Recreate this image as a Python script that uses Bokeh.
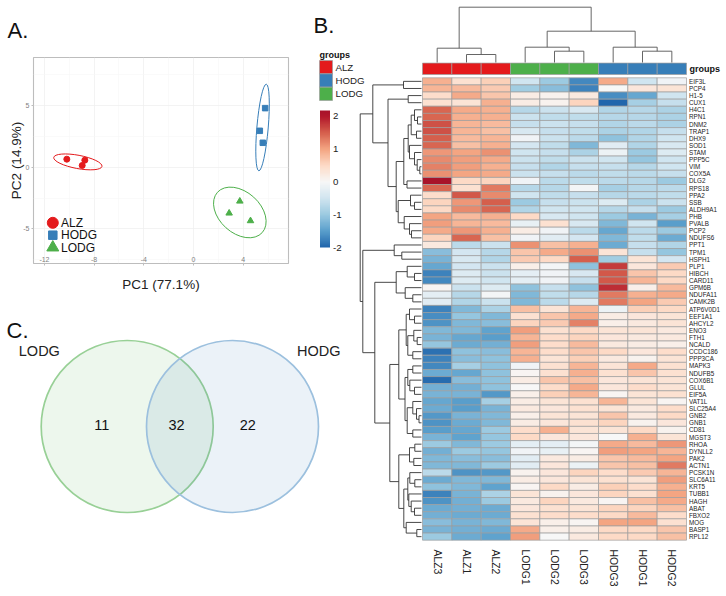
import numpy as np
from bokeh.core.properties import value
from bokeh.embed import file_html
from bokeh.layouts import column, row
from bokeh.models import ColorBar, FixedTicker, LinearColorMapper, Range1d, ColumnDataSource
from bokeh.plotting import figure
from bokeh.resources import INLINE

FONT = "Liberation Sans"
RED, BLUE, GREEN = "#E41A1C", "#377EB8", "#4DAF4A"

# ---------- PCA data ----------
alz_pc1 = [-10.2, -8.75, -8.96]
alz_pc2 = [0.65, 0.57, 0.14]
hodg_pc1 = [5.77, 5.34, 5.58]
hodg_pc2 = [4.79, 2.95, 1.98]
lodg_pc1 = [3.73, 2.87, 4.59]
lodg_pc2 = [-2.76, -3.73, -4.35]
# centre x, centre y, major, minor, angle (deg)
alz_ellipse = (-9.31, 0.43, 3.95, 1.08, -10.6)
hodg_ellipse = (5.56, 3.22, 7.0, 0.92, 85.1)
lodg_ellipse = (3.73, -3.67, 4.85, 3.35, -42)
pc1_ticks = [-12, -8, -4, 0, 4]
pc2_ticks = [-5, 0, 5]

# ---------- Venn data ----------
venn_only_lodg, venn_both, venn_only_hodg = 11, 32, 22

# ---------- Heat map data ----------
samples = ["ALZ3", "ALZ1", "ALZ2", "LODG1", "LODG2", "LODG3", "HODG3", "HODG1", "HODG2"]
sample_groups = ["ALZ", "ALZ", "ALZ", "LODG", "LODG", "LODG", "HODG", "HODG", "HODG"]
genes = ["EIF3L", "PCP4", "H1-5", "CUX1", "H4C1", "RPN1", "DNM2", "TRAP1", "DHX9", "SOD1", "STAM", "PPP5C", "VIM",
         "COX5A", "DLG2", "RPS18", "PPA2", "SSB", "ALDH9A1", "PHB", "PVALB", "PCP2", "NDUFS6", "PPT1", "TPM1", "HSPH1",
         "PLP1", "HIBCH", "CARD11", "GPM6B", "NDUFA11", "CAMK2B", "ATP6V0D1", "EEF1A1", "AHCYL2", "ENO3", "FTH1",
         "NCALD", "CCDC186", "PPP3CA", "MAPK3", "NDUFB5", "COX6B1", "GLUL", "EIF5A", "VAT1L", "SLC25A4", "GNB2", "GNB1",
         "CD81", "MGST3", "RHOA", "DYNLL2", "PAK2", "ACTN1", "PCSK1N", "SLC6A11", "KRT5", "TUBB1", "HAGH", "ABAT",
         "FBXO2", "MOG", "BASP1", "RPL12"]
z_scores = [
    [0.9, 0.4, 0.6, -0.5, -1.0, -1.7, 0.95, -0.5, -0.1],
    [0.85, 0.8, 0.65, -0.95, -1.15, -1.75, 0.0, 0.3, 0.35],
    [0.45, 0.95, 0.7, 0.2, 0.1, 0.25, -1.65, -1.4, -0.5],
    [0.4, 0.35, 0.9, 0.2, 0.1, 0.55, -2.1, -0.9, -0.6],
    [1.45, 0.95, 0.9, -0.75, -0.55, -0.4, -0.8, -0.75, -0.85],
    [1.45, 0.9, 0.9, -0.55, -0.65, -0.65, -0.75, -0.75, -0.85],
    [1.6, 0.85, 0.8, -0.6, -0.55, -0.6, -0.8, -0.7, -0.85],
    [1.6, 0.85, 0.75, -0.4, -0.6, -0.65, -0.85, -0.8, -0.6],
    [1.5, 0.8, 0.85, -0.1, -0.55, -0.7, -1.1, -0.8, -0.5],
    [1.45, 0.75, 0.9, -0.45, -0.65, -1.2, -0.3, -0.8, -0.4],
    [1.1, 1.0, 1.15, -0.5, -0.6, -0.85, -0.15, -1.0, -0.35],
    [1.2, 1.05, 0.95, -0.55, -0.65, -0.55, -0.5, -1.05, -0.5],
    [1.25, 1.05, 0.9, -0.6, -0.8, -0.6, -0.6, -0.75, -0.5],
    [1.15, 1.0, 0.95, -0.55, -0.6, -0.7, -0.65, -0.7, -0.6],
    [2.2, 0.5, 0.55, -0.1, -0.7, -0.65, -0.7, -0.75, -1.0],
    [1.45, 0.4, 1.3, -0.75, -0.75, -0.05, -0.9, -0.75, -0.7],
    [0.45, 1.55, 1.2, -0.5, -0.65, -0.6, -0.75, -0.7, -0.65],
    [0.55, 1.1, 1.5, -1.0, -0.6, -0.55, -0.35, -0.85, -0.55],
    [0.5, 1.2, 1.45, -0.8, -0.5, -0.5, -0.75, -0.6, -1.0],
    [1.0, 0.8, 0.9, 0.5, -0.4, -0.5, -1.0, -1.25, -0.9],
    [1.05, 0.85, 0.8, -0.2, 0.4, -0.4, -1.2, -0.5, -1.5],
    [0.95, 1.1, 0.9, 0.2, -0.1, -0.7, -1.4, -0.7, -1.0],
    [0.55, 1.45, 0.75, -0.1, -0.3, -0.45, -1.2, -0.65, -1.35],
    [0.25, -0.7, -0.55, 1.15, 0.75, 0.9, -1.35, -0.6, -0.8],
    [-1.15, -0.45, -0.75, 0.7, 0.95, 1.15, 0.35, -0.6, -1.05],
    [-1.25, -0.4, -0.8, 0.65, 0.5, 1.5, -0.95, 0.35, -0.45],
    [-1.4, -0.45, -0.55, 0.15, -0.05, -1.1, 1.75, 0.3, 0.65],
    [-1.75, -0.35, -0.55, -0.25, -0.1, -0.4, 1.55, 0.7, 0.5],
    [-1.7, -0.35, -0.5, -0.25, -0.1, -0.6, 1.55, 0.85, 0.5],
    [0.05, -0.55, -0.35, -1.1, -0.6, -1.1, 1.85, 0.15, 0.8],
    [-0.25, -0.75, -0.05, -1.2, -0.65, -0.75, 1.3, 0.9, 0.95],
    [-0.3, -0.8, -0.55, -1.2, -0.7, -0.35, 1.3, 1.0, 0.65],
    [-1.75, -1.2, -0.85, 0.75, 0.35, 0.85, -0.15, 0.6, 0.5],
    [-1.65, -1.05, -1.2, 0.4, 0.7, 0.95, 0.2, 0.3, 0.35],
    [-1.6, -1.2, -1.15, 0.55, 0.65, 1.25, 0.15, 0.25, 0.35],
    [-1.2, -1.2, -1.45, 1.05, 0.4, 0.5, 0.35, 0.35, 0.25],
    [-1.25, -1.4, -1.5, 0.85, 0.45, 0.55, 0.3, 0.25, 0.25],
    [-1.05, -1.35, -1.3, 1.05, 0.45, 0.8, 0.25, 0.2, 0.15],
    [-1.9, -1.1, -1.15, 0.85, 0.45, 0.7, 0.5, 0.3, 0.45],
    [-1.75, -1.15, -1.1, 0.9, 0.35, 0.6, 0.25, 0.1, 0.35],
    [-1.7, -0.9, -1.1, -0.1, 0.4, 0.85, 0.35, 0.95, 0.4],
    [-1.35, -1.4, -1.1, 0.05, 0.4, 0.9, 0.4, 0.7, 0.4],
    [-1.95, -1.15, -1.1, 0.2, 0.7, 0.75, 0.3, 0.35, 0.35],
    [-1.3, -1.3, -1.1, 0.0, 0.45, 0.95, 0.3, 0.45, 0.35],
    [-1.25, -1.25, -1.55, 0.15, 0.6, 0.85, 0.05, 0.35, 0.4],
    [-1.4, -1.5, -0.9, 0.2, 0.35, 0.4, 0.85, 0.35, 0.05],
    [-1.35, -1.5, -1.25, 0.25, 0.3, 0.4, 0.35, 0.25, 0.45],
    [-1.55, -1.25, -1.2, 0.15, 0.35, 0.35, 0.7, 0.25, 0.5],
    [-1.6, -1.35, -1.2, 0.2, 0.3, 0.4, 0.55, 0.1, 0.3],
    [-1.5, -1.4, -1.0, 0.45, 0.9, 0.35, 0.35, 0.5, 0.1],
    [-1.25, -1.45, -1.05, 0.5, 0.3, 0.3, 0.0, 0.9, 0.35],
    [-1.0, -1.2, -1.0, -0.25, -0.25, -0.05, 0.95, 0.8, 1.1],
    [-1.3, -1.0, -1.05, -0.1, -0.2, 0.05, 1.05, 1.0, 0.85],
    [-1.2, -1.15, -1.15, -0.3, 0.25, 0.2, 0.7, 0.8, 1.0],
    [-1.2, -1.2, -1.0, -0.3, 0.3, -0.15, 0.7, 0.75, 1.3],
    [-0.7, -1.6, -1.55, 0.1, 0.3, 0.55, 0.45, 0.65, 0.85],
    [-1.35, -1.2, -1.2, 0.2, 0.3, 0.35, 0.4, 0.35, 1.05],
    [-1.1, -1.2, -1.45, 0.05, 0.5, 0.2, 0.6, 0.45, 0.9],
    [-1.75, -1.25, -0.85, 0.35, 0.1, 0.3, 0.55, 0.4, 1.0],
    [-1.6, -1.3, -1.0, 0.25, 0.55, 0.25, 0.05, 0.75, 0.95],
    [-1.35, -1.3, -1.35, 0.3, 0.4, 0.35, 0.55, 0.55, 0.75],
    [-1.3, -1.35, -1.35, 0.4, 0.45, 0.45, 0.5, 0.8, 0.45],
    [-1.15, -1.25, -1.2, 0.35, 0.15, 0.05, 1.0, 1.0, 0.4],
    [-1.25, -1.3, -1.35, 0.95, 0.15, 0.2, 0.5, 0.5, 0.7],
    [-1.0, -1.35, -1.45, 1.05, 0.0, 0.25, 0.5, 0.5, 0.75],
]
colorbar_ticks = [-2, -1, 0, 1, 2]

# Dendrograms: (merge position, child, child)
sample_tree = (6.7,
               (47.7, "ALZ3", (54, "ALZ1", "ALZ2")),
               (30.7,
                (46.7, "LODG1", (50.7, "LODG2", "LODG3")),
                (46.7, "HODG3", (50.7, "HODG1", "HODG2"))))
gene_tree = (359.7,
    (372.3,
     (403, "EIF3L", "PCP4"),
     (387.5,
      (407.7, "H1-5", "CUX1"),
      (395.7,
       (403.3,
        (407.7,
         (410.7,
          (414, "H4C1", (417, "RPN1", "DNM2")),
          (416, "TRAP1", "DHX9")),
         (409, "SOD1", (414, "STAM", (416.7, "PPP5C", (419.3, "VIM", "COX5A"))))),
        (406.5, "DLG2", "RPS18")),
       (397.7,
        (410, "PPA2", (414, "SSB", "ALDH9A1")),
        (403.7, "PHB", (409, "PVALB", (411, "PCP2", "NDUFS6"))))))),
    (362.3,
     (393.7, "PPT1", (401.3, "TPM1", "HSPH1")),
     (374.3,
      (395.7,
       (406.7, "PLP1", (414, "HIBCH", "CARD11")),
       (404.7, "GPM6B", (412.3, "NDUFA11", "CAMK2B"))),
      (389.3,
       (398.3,
        (405.7,
         (409, "ATP6V0D1", (414, "EEF1A1", "AHCYL2")),
         (407.3, (413.3, "ENO3", (416.7, "FTH1", "NCALD")), (412.3, "CCDC186", "PPP3CA"))),
        (404.5,
         (407.3,
          (412.3, "MAPK3", "NDUFB5"),
          (409.3, "COX6B1", (414, "GLUL", "EIF5A"))),
         (406.7,
          (412.3, "VAT1L", (416, "SLC25A4", (418.5, "GNB2", "GNB1"))),
          (412.3, "CD81", "MGST3")))),
       (398.3,
        (409, (414.3, "RHOA", "DYNLL2"), (413.3, "PAK2", "ACTN1")),
        (403.3,
         (407.3,
          (409.3, "PCSK1N", (414.3, "SLC6A11", "KRT5")),
          (408.3, "TUBB1", (410.7, "HAGH", (414, "ABAT", "FBXO2")))),
         (405.7, "MOG", (416.3, "BASP1", "RPL12"))))))))

GROUP_COLOR = {"ALZ": RED, "HODG": BLUE, "LODG": GREEN}


def page_figure(w, h, xr, yr):
    p = figure(width=w, height=h, x_range=xr, y_range=yr, output_backend="svg", toolbar_location=None,
               min_border=0, border_fill_color=None, background_fill_color=None, outline_line_color=None)
    p.axis.visible = False
    p.grid.visible = False
    p.frame_align = False
    return p


# ---------- A. PCA ----------
SX = 12.42
SY = 12.33
a = figure(width=308, height=300, x_range=Range1d((33 - 193) / SX, (288 - 193) / SX),
           y_range=Range1d((166.7 - 263) / SY, (166.7 - 57) / SY), output_backend="svg", toolbar_location=None,
           min_border_left=33, min_border_right=20, min_border_top=57, min_border_bottom=37,
           border_fill_color=None, background_fill_color="white", frame_align=False)
a.outline_line_color = "#BDBDBD"
a.outline_line_width = 1.1
for ax, ticks in ((a.xaxis[0], pc1_ticks), (a.yaxis[0], pc2_ticks)):
    ax.ticker = FixedTicker(ticks=ticks)
    ax.axis_line_color = None
    ax.major_tick_line_color = "#BDBDBD"
    ax.major_tick_out = 2
    ax.major_tick_in = 0
    ax.minor_tick_line_color = None
    ax.major_label_text_font = FONT
    ax.major_label_text_font_size = "7px"
    ax.major_label_text_color = "#7F7F7F"
    ax.major_label_overrides = {t: str(t) for t in ticks}
    ax.axis_label_text_font = FONT
    ax.axis_label_text_font_size = "13.5px"
    ax.axis_label_text_font_style = "normal"
    ax.axis_label_text_color = "#222222"
a.xaxis[0].major_label_standoff = -9
a.yaxis[0].major_label_standoff = 2
a.xaxis[0].axis_label = "PC1 (77.1%)"
a.yaxis[0].axis_label = "PC2 (14.9%)"
a.xaxis[0].axis_label_standoff = 12
a.yaxis[0].axis_label_standoff = -4
a.xgrid[0].ticker = FixedTicker(ticks=pc1_ticks, minor_ticks=[-10, -6, -2, 2, 6])
a.ygrid[0].ticker = FixedTicker(ticks=pc2_ticks, minor_ticks=[-7.5, -2.5, 2.5, 7.5])
for g in (a.xgrid[0], a.ygrid[0]):
    g.grid_line_color = "#EEEEEE"
    g.grid_line_width = 0.7
    g.minor_grid_line_color = "#F6F6F6"
    g.minor_grid_line_width = 0.6

# panel letter as the figure's title
a.title.text = "A."
a.title.align = "left"
a.title.offset = -26
a.title.standoff = 29
a.title.text_font = FONT
a.title.text_font_size = "22px"
a.title.text_font_style = "normal"
a.title.text_color = "#111111"

for (cx, cy, w, h, ang), col in ((alz_ellipse, RED), (hodg_ellipse, BLUE), (lodg_ellipse, GREEN)):
    a.ellipse(x=[cx], y=[cy], width=[w], height=[h], angle=[ang], angle_units="deg",
              fill_color=None, line_color=col, line_width=1.0)
a.scatter(alz_pc1, alz_pc2, marker="circle", size=6, color=RED)
a.scatter(hodg_pc1, hodg_pc2, marker="square", size=5.5, color=BLUE)
a.scatter(lodg_pc1, lodg_pc2, marker="triangle", size=6.5, color=GREEN)

# legend keys of panel A
key_x = (52.3 - 193) / SX
key_y = [(166.7 - py) / SY for py in (222.3, 234.7, 247)]
a.scatter([key_x], [key_y[0]], marker="circle", size=11, color=RED)
a.scatter([key_x], [key_y[1]], marker="square", size=8.5, color=BLUE)
a.scatter([key_x], [key_y[2]], marker="triangle", size=12, color=GREEN)
a.text(x=[(60.5 - 193) / SX] * 3, y=key_y, text=["ALZ", "HODG", "LODG"], text_baseline="middle",
       text_font=value(FONT), text_font_size="12px", text_color="#111111")

# ---------- C. Venn ----------
c = page_figure(348, 296, Range1d(0, 348), Range1d(596, 300))
c.circle(x=[126.7], y=[426], radius=86, fill_color=GREEN, fill_alpha=0.1, line_color="#98D096", line_width=1.7)
c.circle(x=[232], y=[426], radius=86, fill_color=BLUE, fill_alpha=0.1, line_color="#9CC0DE", line_width=1.7)
c.text(x=[101.3, 176, 247.3], y=[424.7] * 3,
       text=[str(venn_only_lodg), str(venn_both), str(venn_only_hodg)], text_align="center", text_baseline="middle",
       text_font=value(FONT), text_font_size="14.5px", text_color="#111111")
c.text(x=[18.3, 296.5], y=[350.5, 350.5], text=["LODG", "HODG"], text_baseline="middle",
       text_font=value(FONT), text_font_size="14.5px", text_color="#222222")
c.text(x=[6], y=[330], text=["C."], text_baseline="middle", text_font=value(FONT), text_font_size="22px",
       text_color="#111111")

# ---------- B. Heat map ----------
H_LEFT, H_RIGHT, H_TOP, H_BOTTOM = 422.0, 686.0, 77.3, 539.7
CW = (H_RIGHT - H_LEFT) / len(samples)
RH = (H_BOTTOM - H_TOP) / len(genes)
FIG_L, FIG_R, FIG_T, FIG_B = 305.0, 726.0, 0.0, 596.0
b = page_figure(421, 596, Range1d(FIG_L, FIG_R), Range1d(FIG_B, FIG_T))
b.margin = (0, 0, 0, -43)
b.extra_x_ranges["col"] = Range1d((FIG_L - H_LEFT) / CW - 0.5, (FIG_R - H_LEFT) / CW - 0.5)
b.extra_y_ranges["row"] = Range1d((FIG_B - H_TOP) / RH - 0.5, (FIG_T - H_TOP) / RH - 0.5)

anchors_v = [-2, -1.5, -1, -0.5, 0, 0.5, 1, 1.5, 2, 2.18]
anchors_c = ["#2166AC", "#5A9FCC", "#9CCAE1", "#D1E5F0", "#F7F7F7", "#FDDBC7", "#F4A582", "#D6604D", "#B2182B", "#A8132A"]
rgb = np.array([[int(h[i:i + 2], 16) for i in (1, 3, 5)] for h in anchors_c], dtype=float)
grid = np.linspace(-2, 2.18, 256)
palette = ["#%02x%02x%02x" % tuple(int(round(np.interp(v, anchors_v, rgb[:, k]))) for k in range(3)) for v in grid]
mapper = LinearColorMapper(palette=palette, low=-2, high=2.18)

hm = ColumnDataSource(dict(
    col=[j for i in range(len(genes)) for j in range(len(samples))],
    row=[i for i in range(len(genes)) for j in range(len(samples))],
    z=[v for r in z_scores for v in r],
))
b.rect(x="col", y="row", width=1, height=1, source=hm, x_range_name="col", y_range_name="row",
       fill_color={"field": "z", "transform": mapper}, line_color="#9E9E9E", line_width=0.7)

# annotation bar
b.rect(x=list(range(len(samples))), y=[68.3] * len(samples), width=1, height=11.4, x_range_name="col",
       fill_color=[GROUP_COLOR[g] for g in sample_groups], line_color="#9E9E9E", line_width=0.7)
b.text(x=[689], y=[68.5], text=["groups"], text_baseline="middle", text_font=value(FONT), text_font_style="bold",
       text_font_size="9px", text_color="#111111")

# labels
b.text(x=[688.5] * len(genes), y=list(range(len(genes))), text=genes, y_range_name="row", text_baseline="middle",
       text_font=value(FONT), text_font_size="6.3px", text_color="#222222")
b.text(x=list(range(len(samples))), y=[549] * len(samples), text=samples, x_range_name="col", angle=-np.pi / 2,
       text_align="left", text_baseline="middle", text_font=value(FONT), text_font_size="10.4px", text_color="#222222")


def tree_lines(node, leaf_pos, leaf_edge):
    """Return (position across the leaves, merge position, segments) of a nested merge tuple."""
    if isinstance(node, str):
        return leaf_pos[node], leaf_edge, []
    h, l, r = node
    lp, lh, ls = tree_lines(l, leaf_pos, leaf_edge)
    rp, rh, rs = tree_lines(r, leaf_pos, leaf_edge)
    seg = ([lp, lp, rp, rp], [lh, h, h, rh])
    return (lp + rp) / 2, h, ls + rs + [seg]


_, _, segs = tree_lines(sample_tree, {s: i for i, s in enumerate(samples)}, 62.0)
b.multi_line(xs=[s[0] for s in segs], ys=[s[1] for s in segs], x_range_name="col", line_color="#555555", line_width=0.9)
_, _, segs = tree_lines(gene_tree, {g: i for i, g in enumerate(genes)}, 421.0)
b.multi_line(xs=[s[1] for s in segs], ys=[s[0] for s in segs], y_range_name="row", line_color="#333333", line_width=0.9)

# group legend
leg_names = ["ALZ", "HODG", "LODG"]
b.text(x=[319], y=[54], text=["groups"], text_baseline="middle", text_font=value(FONT), text_font_style="bold",
       text_font_size="9px", text_color="#111111")
b.rect(x=[325.5] * 3, y=[66.7, 80, 93.3], width=13, height=13.3, fill_color=[GROUP_COLOR[n] for n in leg_names],
       line_color="#9E9E9E", line_width=0.7)
b.text(x=[335] * 3, y=[66.7, 80, 93.3], text=leg_names, text_baseline="middle", text_font=value(FONT),
       text_font_size="9.7px", text_color="#222222")
b.text(x=[313], y=[24.5], text=["B."], text_baseline="middle", text_font=value(FONT), text_font_size="22px",
       text_color="#111111")

cb = ColorBar(color_mapper=mapper, ticker=FixedTicker(ticks=colorbar_ticks), width=10, height=137,
              location=(14.5, 349), padding=0, margin=0, label_standoff=3, major_tick_line_color=None,
              minor_tick_line_color=None, bar_line_color=None, border_line_color=None, background_fill_alpha=0,
              major_label_text_font=FONT, major_label_text_font_size="9.7px", major_label_text_color="#222222",
              major_label_overrides={t: str(t) for t in colorbar_ticks})
b.add_layout(cb)

layout = row(column(a, c, spacing=0), b, spacing=0)
open("out.html", "w").write(file_html(layout, INLINE))
